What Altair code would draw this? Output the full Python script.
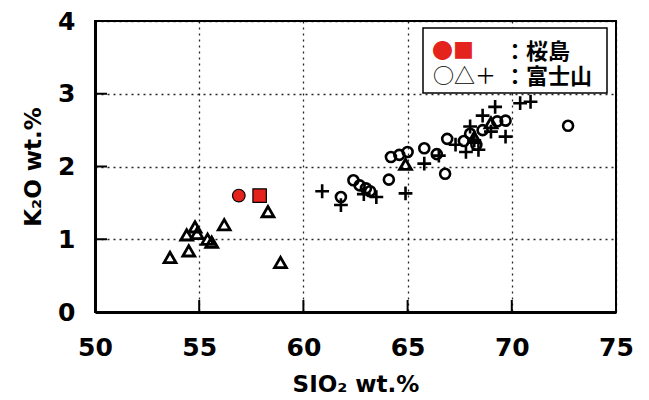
import altair as alt
import pandas as pd

# ---- data ----
sakura_circle_sio2 = [56.9]
sakura_circle_k2o = [1.60]
sakura_square_sio2 = [57.9]
sakura_square_k2o = [1.60]

fuji_circle_sio2 = [61.8, 62.4, 62.7, 63.0, 63.2, 64.1, 64.2, 64.6, 65.0, 65.8, 66.4, 66.8,
                    66.9, 67.7, 68.0, 68.3, 68.6, 69.3, 69.7, 72.7]
fuji_circle_k2o = [1.58, 1.81, 1.74, 1.70, 1.66, 1.82, 2.13, 2.16, 2.20, 2.25, 2.17, 1.90,
                   2.38, 2.35, 2.45, 2.30, 2.50, 2.62, 2.63, 2.56]

fuji_tri_sio2 = [53.6, 54.4, 54.5, 54.8, 54.9, 55.4, 55.6, 56.2, 58.3, 58.9, 64.9, 68.2, 69.0]
fuji_tri_k2o = [0.75, 1.06, 0.84, 1.17, 1.08, 1.00, 0.96, 1.20, 1.38, 0.68, 2.03, 2.40, 2.60]

fuji_plus_sio2 = [60.9, 61.8, 62.9, 63.5, 64.9, 65.8, 66.5, 67.3, 67.8, 68.0, 68.2, 68.4,
                  68.6, 69.0, 69.2, 69.7, 70.4, 70.9]
fuji_plus_k2o = [1.66, 1.47, 1.62, 1.58, 1.63, 2.04, 2.15, 2.30, 2.20, 2.55, 2.36, 2.23,
                 2.70, 2.48, 2.82, 2.41, 2.87, 2.89]

x_ticks = [50, 55, 60, 65, 70, 75]
y_ticks = [0, 1, 2, 3, 4]
x_inner_ticks = [55, 60, 65, 70]
y_inner_ticks = [1, 2, 3]

x_title = "SIO₂ wt.%"
y_title = "K₂O wt.%"
legend_symbols_red = ["●■"]
legend_symbols_black = ["○△＋"]
legend_labels = ["：桜島", "：富士山"]

W, H = 521, 291
FONT = "DejaVu Sans"
CJK = "Noto Sans CJK JP"

xs = alt.Scale(domain=[50, 75], nice=False, zero=False)
ys = alt.Scale(domain=[0, 4], nice=False, zero=False)


def df(x, y):
    return pd.DataFrame({"sio2": x, "k2o": y})


xaxis = alt.Axis(values=x_ticks, format="d", title=x_title, ticks=False, tickSize=0,
                 labelFontSize=25, labelFont=FONT, labelFontWeight="bold", labelColor="black",
                 labelPadding=23, labelFlush=False,
                 titleFontSize=23, titleFont=FONT, titleFontWeight="bold", titleColor="black",
                 titlePadding=13,
                 domainColor="black", domainWidth=3,
                 grid=True, gridColor="black", gridDash=[2, 4], gridWidth=1.3, gridOpacity=0.85)
yaxis = alt.Axis(values=y_ticks, format="d", title=y_title, ticks=False, tickSize=0,
                 labelFontSize=25, labelFont=FONT, labelFontWeight="bold", labelColor="black",
                 labelPadding=20, labelFlush=False,
                 titleFontSize=23, titleFont=FONT, titleFontWeight="bold", titleColor="black",
                 titlePadding=12,
                 domainColor="black", domainWidth=3,
                 grid=True, gridColor="black", gridDash=[2, 4], gridWidth=1.3, gridOpacity=0.85)

X = alt.X("sio2:Q", scale=xs, axis=xaxis)
Y = alt.Y("k2o:Q", scale=ys, axis=yaxis)

base_circles = alt.Chart(df(fuji_circle_sio2, fuji_circle_k2o)).mark_point(
    shape="circle", filled=False, color="black", size=100, strokeWidth=2.6, opacity=1
).encode(x=X, y=Y)

tris = alt.Chart(df(fuji_tri_sio2, fuji_tri_k2o)).mark_point(
    shape="triangle-up", filled=False, color="black", size=140, strokeWidth=2.8, opacity=1
).encode(x=X, y=Y)

plus = alt.Chart(df(fuji_plus_sio2, fuji_plus_k2o)).mark_point(
    shape="M-1,0H1M0,-1V1", filled=False, color="black", size=190, strokeWidth=2.6, opacity=1
).encode(x=X, y=Y)

red_circle = alt.Chart(df(sakura_circle_sio2, sakura_circle_k2o)).mark_point(
    shape="circle", filled=True, fill="#e3231c", stroke="black", strokeWidth=1.2, size=160, opacity=1
).encode(x=X, y=Y)

red_square = alt.Chart(df(sakura_square_sio2, sakura_square_k2o)).mark_point(
    shape="square", filled=True, fill="#e3231c", stroke="black", strokeWidth=1.2, size=180, opacity=1
).encode(x=X, y=Y)

ytick_rules = alt.Chart(pd.DataFrame({"k2o": y_inner_ticks})).mark_rule(
    color="black", strokeWidth=2
).encode(y=Y, x=alt.value(0), x2=alt.value(12))

xtick_rules = alt.Chart(pd.DataFrame({"sio2": x_inner_ticks})).mark_rule(
    color="black", strokeWidth=2
).encode(x=X, y=alt.value(H), y2=alt.value(H - 12))

one = pd.DataFrame({"a": [0]})
legend_box = alt.Chart(one).mark_rect(fill="white", stroke="black", strokeWidth=1.5).encode(
    x=alt.value(328), x2=alt.value(512), y=alt.value(7), y2=alt.value(72))

leg_red = alt.Chart(pd.DataFrame({"t": legend_symbols_red})).mark_text(
    font=CJK, fontSize=21, color="#e3231c", align="left", baseline="middle", lineHeight=21
).encode(text="t:N", x=alt.value(337), y=alt.value(31))

leg_black = alt.Chart(pd.DataFrame({"t": legend_symbols_black})).mark_text(
    font=CJK, fontSize=21, color="black", align="left", baseline="middle", lineHeight=21
).encode(text="t:N", x=alt.value(338), y=alt.value(56))

leg_lab1 = alt.Chart(pd.DataFrame({"t": legend_labels[:1]})).mark_text(
    font=CJK, fontSize=22, fontWeight="bold", color="black", align="left", baseline="middle",
    lineHeight=22
).encode(text="t:N", x=alt.value(409), y=alt.value(31))

leg_lab2 = alt.Chart(pd.DataFrame({"t": legend_labels[1:]})).mark_text(
    font=CJK, fontSize=22, fontWeight="bold", color="black", align="left", baseline="middle",
    lineHeight=22
).encode(text="t:N", x=alt.value(409), y=alt.value(56))

chart = alt.layer(
    base_circles, tris, plus, red_circle, red_square, ytick_rules, xtick_rules,
    legend_box, leg_red, leg_black, leg_lab1, leg_lab2
).properties(
    width=W, height=H,
    autosize=alt.AutoSizeParams(type="none"),
    padding={"left": 95, "top": 21, "right": 649 - 95 - W, "bottom": 400 - 21 - H},
    background="white"
).configure_view(stroke="black", strokeWidth=2)

chart.save("out.html", embed_options={"renderer": "svg", "actions": False})
